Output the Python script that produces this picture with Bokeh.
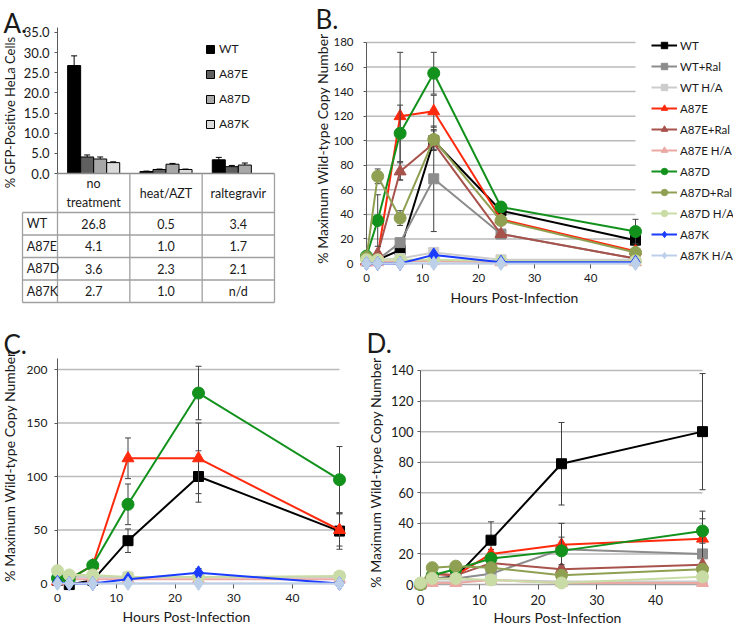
import math
from bokeh.plotting import figure
from bokeh.models import Range1d, FixedTicker, Label, Legend, LegendItem, NumeralTickFormatter
from bokeh.layouts import row, column
from bokeh.embed import file_html
from bokeh.resources import INLINE
from bokeh.core.properties import value

FONT = "Lato"
TXT = "#1a1a1a"
GRID = "#bababa"
ERRC = "#404040"
AXC = "#595959"
TABLE_LINE = "#a0a0a0"

# ---------------- Panel A data ----------------
TREATMENTS = ["no\ntreatment", "heat/AZT", "raltegravir"]
VARIANTS = ["WT", "A87E", "A87D", "A87K"]
GFP_WT = [26.8, 0.5, 3.4]
GFP_A87E = [4.1, 1.0, 1.7]
GFP_A87D = [3.6, 2.3, 2.1]
GFP_A87K = [2.7, 1.0, None]          # n/d
GFP_ERR_WT = [2.4, 0.1, 0.6]
GFP_ERR_A87E = [0.5, 0.1, 0.3]
GFP_ERR_A87D = [0.5, 0.2, 0.5]
GFP_ERR_A87K = [0.2, 0.1, None]
A_TICKS = [0, 5, 10, 15, 20, 25, 30, 35]

# ---------------- Time-course data ----------------
HOURS = [0, 2, 6, 12, 24, 48]
X_TICKS = [0, 10, 20, 30, 40]
SERIES = ["WT", "WT+Ral", "WT H/A", "A87E", "A87E+Ral", "A87E H/A",
          "A87D", "A87D+Ral", "A87D H/A", "A87K", "A87K H/A"]

# Panel B
B_TICKS = [0, 20, 40, 60, 80, 100, 120, 140, 160, 180]
B_WT = [3, 3, 11, 100, 43, 19]
B_WT_RAL = [2, 3, 17, 69, 24, 4]
B_WT_HA = [3, 3, 4, 9, 3, 3]
B_A87E = [2, 6, 120, 124, 36, 10]
B_A87E_RAL = [2, 8, 75, 98, 24, 4]
B_A87E_HA = [1, 1, 2, 2, 1, 1]
B_A87D = [6, 35, 106, 155, 46, 26]
B_A87D_RAL = [5, 71, 37, 101, 35, 9]
B_A87D_HA = [3, 3, 3, 3, 2, 2]
B_A87K = [0, 0, 0, 7, 1, 1]
B_A87K_HA = [0, 0, 0, 0, 0, 0]
B_ERR_WT = [None, None, 4, 8, 4, None]
B_ERR_WT_RAL = [None, None, None, 43, None, None]
B_ERR_A87E = [None, None, 52, 13, None, None]
B_ERR_A87E_RAL = [None, None, 7, None, None, None]
B_ERR_A87D = [None, 21, 23, 17, 4, 10]
B_ERR_A87D_RAL = [None, 6, 6, 8, None, None]

# Panel C
C_TICKS = [0, 50, 100, 150, 200]
C_WT = [3, -1, 3, 40, 100, 49]
C_WT_HA = [5, 6, 6, 6, 6, 6]
C_A87E = [2, 4, 17, 117, 117, 50]
C_A87E_HA = [3, 4, 4, 4, 4, 4]
C_A87D = [5, 4, 17, 74, 178, 97]
C_A87D_HA = [12, 8, 8, 6, 6, 7]
C_A87K = [1, 0, 0, 4, 10, 0]
C_A87K_HA = [0, 0, 0, 0, 0, 0]
C_ERR_WT = [None, None, None, 11, 24, 17]
C_ERR_A87E = [None, None, None, 19, 33, 15]
C_ERR_A87D = [None, None, None, 19, 25, 31]
C_ERR_A87K = [None, None, None, None, 4, None]

# Panel D
D_TICKS = [0, 20, 40, 60, 80, 100, 120, 140]
D_WT = [0, 4, 5, 29, 79, 100]
D_WT_RAL = [0, 4, 4, 7, 23, 20]
D_WT_HA = [0, 2, 2, 3, 2, 2]
D_A87E = [0, 7, 6, 20, 26, 30]
D_A87E_RAL = [0, 7, 6, 14, 10, 13]
D_A87E_HA = [0, 1, 1, 3, 1, 1]
D_A87D = [0, 6, 10, 17, 22, 35]
D_A87D_RAL = [0, 11, 12, 11, 6, 10]
D_A87D_HA = [1, 4, 4, 3, 1, 5]
D_ERR_WT = [None, None, None, 12, 27, 38]
D_ERR_A87E = [None, None, None, 3, 14, 18]
D_ERR_A87D = [None, None, None, None, 9, 8]

# ---------------- styles ----------------
BAR_COLORS = ["#000000", "#5f5f5f", "#a8a8a8", "#dadada"]
STYLE = {
    "WT": ("#000000", "square"),
    "WT+Ral": ("#8c8c8c", "square"),
    "WT H/A": ("#cccccc", "square"),
    "A87E": ("#ff2a0d", "triangle"),
    "A87E+Ral": ("#a8524c", "triangle"),
    "A87E H/A": ("#eba9a3", "triangle"),
    "A87D": ("#12921c", "circle"),
    "A87D+Ral": ("#8fa052", "circle"),
    "A87D H/A": ("#cadca6", "circle"),
    "A87K": ("#1a3cff", "diamond"),
    "A87K H/A": ("#bdd0e9", "diamond"),
}
MSIZE = {"square": 10, "triangle": 12, "circle": 12, "diamond": 14}


class Geo:
    """One figure whose frame fills its whole canvas; maps page pixels to data units."""
    def __init__(self, fig_l, fig_t, fig_w, fig_h, x0, xs, y0, ys):
        self.fig_l, self.fig_t, self.fig_w, self.fig_h = fig_l, fig_t, fig_w, fig_h
        self.x0, self.xs, self.y0, self.ys = x0, xs, y0, ys

    def dx(self, px):
        return (px - self.x0) / self.xs

    def dy(self, py):
        return (self.y0 - py) / self.ys

    def fig(self):
        p = figure(width=self.fig_w, height=self.fig_h,
                   x_range=Range1d(self.dx(self.fig_l), self.dx(self.fig_l + self.fig_w)),
                   y_range=Range1d(self.dy(self.fig_t + self.fig_h), self.dy(self.fig_t)),
                   min_border=0, toolbar_location=None, output_backend="svg",
                   outline_line_color=None, background_fill_color="white",
                   border_fill_color="white")
        p.grid.visible = False
        return p


GA = Geo(0, 0, 300, 310, 57, 72.33, 173, 4.0286)
GB = Geo(300, 0, 433, 310, 366, 5.604, 263, 1.2278)
GC = Geo(0, 310, 363, 315, 57, 5.875, 583, 1.07)
GD = Geo(363, 310, 370, 315, 420, 5.875, 584, 1.5286)


def add_text(p, g, text, px, py, size, angle=0.0, align="center", baseline="middle"):
    p.add_layout(Label(x=g.dx(px), y=g.dy(py), text=text, angle=angle,
                       text_align=align, text_baseline=baseline, text_font=FONT,
                       text_font_size=size, text_color=TXT))


# ================= Panel A: bars + table =================
pa = GA.fig()
pa.xaxis.visible = False
ya = pa.yaxis[0]
ya.fixed_location = 0
ya.bounds = (0, 36.2)
ya.ticker = FixedTicker(ticks=A_TICKS)
ya.formatter = NumeralTickFormatter(format="0.0")
ya.axis_line_color = AXC
ya.major_tick_line_color = AXC
ya.major_tick_out = 3
ya.major_tick_in = 0
ya.minor_tick_line_color = None
ya.major_label_standoff = 5
ya.major_label_text_font = FONT
ya.major_label_text_font_size = "13px"
ya.major_label_text_color = TXT

n_cols = len(TREATMENTS)
n_rows = len(VARIANTS)
gfp_vals = [GFP_WT, GFP_A87E, GFP_A87D, GFP_A87K]
gfp_errs = [GFP_ERR_WT, GFP_ERR_A87E, GFP_ERR_A87D, GFP_ERR_A87K]
bw = 0.18
bar_rs = []
for k, (name, vals, errs) in enumerate(zip(VARIANTS, gfp_vals, gfp_errs)):
    xs = [i + 0.5 + (k - 1.5) * bw for i in range(n_cols)]
    tops = [v if v is not None else float("nan") for v in vals]
    r = pa.vbar(x=xs, top=tops, bottom=0, width=bw, fill_color=BAR_COLORS[k],
                line_color="#000000", line_width=1)
    bar_rs.append(r)
    ex = [x for x, v, e in zip(xs, vals, errs) if v is not None and e]
    elo = [v for v, e in zip(vals, errs) if v is not None and e]
    ehi = [v + e for v, e in zip(vals, errs) if v is not None and e]
    pa.segment(x0=ex, y0=elo, x1=ex, y1=ehi, line_color="#000000", line_width=1)
    pa.scatter(x=ex, y=ehi, marker="dash", size=6, line_color="#000000", line_width=1)

# table below the category axis (row geometry in page pixels)
HDR_PX, ROW_PX = 39, 22.5
TL = GA.dx(22)
y_hdr = GA.dy(173 + HDR_PX)
row_edges = [GA.dy(173 + HDR_PX + i * ROW_PX) for i in range(n_rows + 1)]
row_mid = [GA.dy(173 + HDR_PX + (i + 0.5) * ROW_PX) for i in range(n_rows)]
pa.segment(x0=[0], y0=[0], x1=[n_cols], y1=[0], line_color="#8c8c8c", line_width=1.3)
pa.segment(x0=[TL] * len(row_edges), x1=[n_cols] * len(row_edges), y0=row_edges, y1=row_edges,
           line_color=TABLE_LINE, line_width=1.3)
vx = list(range(n_cols + 1))
pa.segment(x0=vx, x1=vx, y0=[0] * len(vx), y1=[row_edges[-1]] * len(vx),
           line_color=TABLE_LINE, line_width=1.3)
pa.segment(x0=[TL], x1=[TL], y0=[y_hdr], y1=[row_edges[-1]], line_color=TABLE_LINE, line_width=1.3)
pa.text(x=[i + 0.5 for i in range(n_cols)], y=[y_hdr / 2] * n_cols, text=TREATMENTS,
        text_align="center", text_baseline="middle", text_font=value(FONT),
        text_font_size="12.5px", text_color=TXT, text_line_height=1.25)
pa.text(x=[TL + 0.06] * n_rows, y=row_mid, text=VARIANTS,
        text_align="left", text_baseline="middle", text_font=value(FONT),
        text_font_size="12.5px", text_color=TXT)
cx, cy, ct = [], [], []
for r, vals in enumerate(gfp_vals):
    for c, v in enumerate(vals):
        cx.append(c + 0.5)
        cy.append(row_mid[r])
        ct.append(f"{v:.1f}" if v is not None else "n/d")
pa.text(x=cx, y=cy, text=ct, text_align="center", text_baseline="middle",
        text_font=value(FONT), text_font_size="12.5px", text_color=TXT)

leg_a = Legend(items=[LegendItem(label=n, renderers=[r]) for n, r in zip(VARIANTS, bar_rs)],
               location=(205, 310 - 131), glyph_width=10, glyph_height=10, label_height=14,
               spacing=10, padding=0, margin=0, border_line_color=None,
               background_fill_alpha=0, label_text_font=FONT,
               label_text_font_size="12px", label_text_color=TXT, label_standoff=4)
pa.add_layout(leg_a)
add_text(pa, GA, "A.", 3, 22, "26px", align="left", baseline="alphabetic")
add_text(pa, GA, "% GFP-Positive HeLa Cells", 9, 112, "13px", angle=math.pi / 2)


# ================= Time-course panels =================
def time_panel(g, series, ticks, ybound, tick_size, ystand):
    p = g.fig()
    gy = [t for t in ticks if t > 0]
    p.segment(x0=[HOURS[0]] * len(gy), x1=[HOURS[-1]] * len(gy), y0=gy, y1=gy,
              line_color=GRID, line_width=1.5, level="underlay")
    xa = p.xaxis[0]
    ya = p.yaxis[0]
    xa.fixed_location = 0
    ya.fixed_location = 0
    xa.ticker = FixedTicker(ticks=X_TICKS)
    ya.ticker = FixedTicker(ticks=ticks)
    xa.bounds = (0, HOURS[-1])
    ya.bounds = (0, ybound)
    for ax in (xa, ya):
        ax.minor_tick_line_color = None
        ax.major_tick_in = 0
        ax.major_label_text_font = FONT
        ax.major_label_text_font_size = tick_size
        ax.major_label_text_color = TXT
        ax.level = "underlay"
    xa.axis_line_color = "#a8a8a8"
    xa.axis_line_width = 1.5
    xa.major_tick_line_color = AXC
    xa.major_tick_out = 5
    xa.major_label_standoff = 5
    ya.axis_line_color = AXC
    ya.major_tick_line_color = AXC
    ya.major_tick_out = 3
    ya.major_label_standoff = ystand
    rends = {}
    for name, vals, errs in series:
        color, marker = STYLE[name]
        if errs is not None:
            ex = [h for h, e in zip(HOURS, errs) if e]
            lo = [v - e for v, e in zip(vals, errs) if e]
            hi = [v + e for v, e in zip(vals, errs) if e]
            p.segment(x0=ex, y0=lo, x1=ex, y1=hi, line_color=ERRC, line_width=1)
            p.scatter(x=ex + ex, y=lo + hi, marker="dash", size=6, line_color=ERRC, line_width=1)
        l = p.line(HOURS, vals, line_color=color, line_width=2)
        s = p.scatter(HOURS, vals, marker=marker, size=MSIZE[marker],
                      fill_color=color, line_color=color)
        rends[name] = [l, s]
    return p, rends


pb, rb = time_panel(GB, [
    ("WT", B_WT, B_ERR_WT), ("WT+Ral", B_WT_RAL, B_ERR_WT_RAL), ("WT H/A", B_WT_HA, None),
    ("A87E", B_A87E, B_ERR_A87E), ("A87E+Ral", B_A87E_RAL, B_ERR_A87E_RAL),
    ("A87E H/A", B_A87E_HA, None), ("A87D", B_A87D, B_ERR_A87D),
    ("A87D+Ral", B_A87D_RAL, B_ERR_A87D_RAL), ("A87D H/A", B_A87D_HA, None),
    ("A87K", B_A87K, None), ("A87K H/A", B_A87K_HA, None)],
    B_TICKS, 180, "11.5px", 10)
leg_b = Legend(items=[LegendItem(label=n, renderers=rb[n]) for n in SERIES],
               location=(351, 47), glyph_width=26, glyph_height=16, label_height=16,
               spacing=5, padding=0, margin=0, border_line_color=None,
               background_fill_alpha=0, label_text_font=FONT,
               label_text_font_size="11.5px", label_text_color=TXT, label_standoff=3)
pb.add_layout(leg_b)
add_text(pb, GB, "B.", 315, 18, "26px", align="left", baseline="alphabetic")
add_text(pb, GB, "% Maximum Wild-type Copy Number", 322, 148, "14px", angle=math.pi / 2)
add_text(pb, GB, "Hours Post-Infection", 514, 297, "14px")

pc, rc = time_panel(GC, [
    ("WT", C_WT, C_ERR_WT), ("WT H/A", C_WT_HA, None),
    ("A87E", C_A87E, C_ERR_A87E), ("A87E H/A", C_A87E_HA, None),
    ("A87D", C_A87D, C_ERR_A87D), ("A87D H/A", C_A87D_HA, None),
    ("A87K", C_A87K, C_ERR_A87K), ("A87K H/A", C_A87K_HA, None)],
    C_TICKS, 210, "12px", 7)
add_text(pc, GC, "C.", 3, 343, "26px", align="left", baseline="alphabetic")
add_text(pc, GC, "% Maximum Wild-type Copy Number", 9, 466, "14px", angle=math.pi / 2)
add_text(pc, GC, "Hours Post-Infection", 186, 616, "14px")

pd_, rd = time_panel(GD, [
    ("WT", D_WT, D_ERR_WT), ("WT+Ral", D_WT_RAL, None), ("WT H/A", D_WT_HA, None),
    ("A87E", D_A87E, D_ERR_A87E), ("A87E+Ral", D_A87E_RAL, None),
    ("A87E H/A", D_A87E_HA, None), ("A87D", D_A87D, D_ERR_A87D),
    ("A87D+Ral", D_A87D_RAL, None), ("A87D H/A", D_A87D_HA, None)],
    D_TICKS, 140, "13px", 4)
add_text(pd_, GD, "D.", 366, 342, "26px", align="left", baseline="alphabetic")
add_text(pd_, GD, "% Maximum Wild-type Copy Number", 375, 472, "14px", angle=math.pi / 2)
add_text(pd_, GD, "Hours Post-Infection", 557, 617, "14px")

layout = column(row(pa, pb), row(pc, pd_))
open("out.html", "w").write(file_html(layout, INLINE))
